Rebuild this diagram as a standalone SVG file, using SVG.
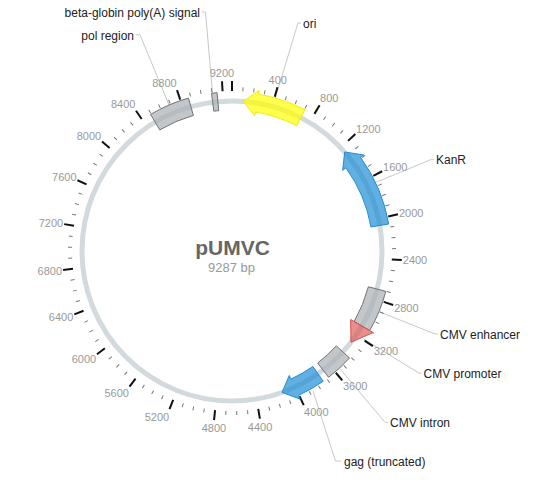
<svg xmlns="http://www.w3.org/2000/svg" xmlns:xlink="http://www.w3.org/1999/xlink" width="549" height="489" viewBox="0 0 549 489">
<style>
.bb{fill:none;stroke:#d3dadd;stroke-width:5}
.mj{stroke:#111;stroke-width:2}
.mn{stroke:#777;stroke-width:1}
.tl{font-family:"Liberation Sans",Arial,sans-serif;font-size:11px;fill:#999}
.lbl{font-family:"Liberation Sans",Arial,sans-serif;font-size:12px;fill:#222}
.ln{fill:none;stroke:#c8c8c8;stroke-width:1}
.gray{fill:#a9afb4;fill-opacity:.7;stroke:#6e7377;stroke-width:1}
.blue{fill:#1f8dd6;fill-opacity:.7;stroke:#1f8dd6;stroke-width:1}
.yel{fill:#ffff00;fill-opacity:.7;stroke:#eeee10;stroke-width:1}
.red{fill:#d9534f;fill-opacity:.65;stroke:#d9534f;stroke-width:1}
.title{font-family:"Liberation Sans",Arial,sans-serif;font-size:21px;font-weight:bold;fill:#666}
.sub{font-family:"Liberation Sans",Arial,sans-serif;font-size:13px;fill:#999}
</style>
<defs>
<line id="tM" class="mj" x1="232" y1="91" x2="232" y2="81"/>
<line id="tm" class="mn" x1="232" y1="91" x2="232" y2="87"/>
</defs>
<rect width="549" height="489" fill="#fff"/>
<circle id="backbone" class="bb" cx="232" cy="251" r="150"/>

<g id="connectors">
<polyline class="ln" points="275.3,98 298,23 301,23"/>
<polyline class="ln" points="375.5,182.5 431.7,159.3 434,159.3"/>
<polyline class="ln" points="379,311.6 435,334 438,334"/>
<polyline class="ln" points="364.2,339.3 419.3,373.3 421.5,373.3"/>
<polyline class="ln" points="339.5,368.2 385,422.3 388,422.3"/>
<polyline class="ln" points="313,391 335.5,461 341,461"/>
<polyline class="ln" points="169,105 140,34.8 136,34.8"/>
<polyline class="ln" points="212.5,93.3 205.5,12 202,12"/>
</g>

<g id="ticks">
<use xlink:href="#tM" transform="rotate(0 232 251)"/>
<use xlink:href="#tM" transform="rotate(15.506 232 251)"/>
<use xlink:href="#tM" transform="rotate(31.011 232 251)"/>
<use xlink:href="#tM" transform="rotate(46.517 232 251)"/>
<use xlink:href="#tM" transform="rotate(62.022 232 251)"/>
<use xlink:href="#tM" transform="rotate(77.528 232 251)"/>
<use xlink:href="#tM" transform="rotate(93.033 232 251)"/>
<use xlink:href="#tM" transform="rotate(108.539 232 251)"/>
<use xlink:href="#tM" transform="rotate(124.044 232 251)"/>
<use xlink:href="#tM" transform="rotate(139.550 232 251)"/>
<use xlink:href="#tM" transform="rotate(155.055 232 251)"/>
<use xlink:href="#tM" transform="rotate(170.561 232 251)"/>
<use xlink:href="#tM" transform="rotate(186.066 232 251)"/>
<use xlink:href="#tM" transform="rotate(201.572 232 251)"/>
<use xlink:href="#tM" transform="rotate(217.077 232 251)"/>
<use xlink:href="#tM" transform="rotate(232.583 232 251)"/>
<use xlink:href="#tM" transform="rotate(248.088 232 251)"/>
<use xlink:href="#tM" transform="rotate(263.594 232 251)"/>
<use xlink:href="#tM" transform="rotate(279.099 232 251)"/>
<use xlink:href="#tM" transform="rotate(294.605 232 251)"/>
<use xlink:href="#tM" transform="rotate(310.110 232 251)"/>
<use xlink:href="#tM" transform="rotate(325.616 232 251)"/>
<use xlink:href="#tM" transform="rotate(341.121 232 251)"/>
<use xlink:href="#tM" transform="rotate(356.627 232 251)"/>
<use xlink:href="#tm" transform="rotate(3.876 232 251)"/>
<use xlink:href="#tm" transform="rotate(7.753 232 251)"/>
<use xlink:href="#tm" transform="rotate(11.629 232 251)"/>
<use xlink:href="#tm" transform="rotate(19.382 232 251)"/>
<use xlink:href="#tm" transform="rotate(23.258 232 251)"/>
<use xlink:href="#tm" transform="rotate(27.135 232 251)"/>
<use xlink:href="#tm" transform="rotate(34.888 232 251)"/>
<use xlink:href="#tm" transform="rotate(38.764 232 251)"/>
<use xlink:href="#tm" transform="rotate(42.640 232 251)"/>
<use xlink:href="#tm" transform="rotate(50.393 232 251)"/>
<use xlink:href="#tm" transform="rotate(54.269 232 251)"/>
<use xlink:href="#tm" transform="rotate(58.146 232 251)"/>
<use xlink:href="#tm" transform="rotate(65.899 232 251)"/>
<use xlink:href="#tm" transform="rotate(69.775 232 251)"/>
<use xlink:href="#tm" transform="rotate(73.651 232 251)"/>
<use xlink:href="#tm" transform="rotate(81.404 232 251)"/>
<use xlink:href="#tm" transform="rotate(85.280 232 251)"/>
<use xlink:href="#tm" transform="rotate(89.157 232 251)"/>
<use xlink:href="#tm" transform="rotate(96.910 232 251)"/>
<use xlink:href="#tm" transform="rotate(100.786 232 251)"/>
<use xlink:href="#tm" transform="rotate(104.662 232 251)"/>
<use xlink:href="#tm" transform="rotate(112.415 232 251)"/>
<use xlink:href="#tm" transform="rotate(116.292 232 251)"/>
<use xlink:href="#tm" transform="rotate(120.168 232 251)"/>
<use xlink:href="#tm" transform="rotate(127.921 232 251)"/>
<use xlink:href="#tm" transform="rotate(131.797 232 251)"/>
<use xlink:href="#tm" transform="rotate(135.673 232 251)"/>
<use xlink:href="#tm" transform="rotate(143.426 232 251)"/>
<use xlink:href="#tm" transform="rotate(147.303 232 251)"/>
<use xlink:href="#tm" transform="rotate(151.179 232 251)"/>
<use xlink:href="#tm" transform="rotate(158.932 232 251)"/>
<use xlink:href="#tm" transform="rotate(162.808 232 251)"/>
<use xlink:href="#tm" transform="rotate(166.684 232 251)"/>
<use xlink:href="#tm" transform="rotate(174.437 232 251)"/>
<use xlink:href="#tm" transform="rotate(178.314 232 251)"/>
<use xlink:href="#tm" transform="rotate(182.190 232 251)"/>
<use xlink:href="#tm" transform="rotate(189.943 232 251)"/>
<use xlink:href="#tm" transform="rotate(193.819 232 251)"/>
<use xlink:href="#tm" transform="rotate(197.695 232 251)"/>
<use xlink:href="#tm" transform="rotate(205.448 232 251)"/>
<use xlink:href="#tm" transform="rotate(209.325 232 251)"/>
<use xlink:href="#tm" transform="rotate(213.201 232 251)"/>
<use xlink:href="#tm" transform="rotate(220.954 232 251)"/>
<use xlink:href="#tm" transform="rotate(224.830 232 251)"/>
<use xlink:href="#tm" transform="rotate(228.706 232 251)"/>
<use xlink:href="#tm" transform="rotate(236.459 232 251)"/>
<use xlink:href="#tm" transform="rotate(240.336 232 251)"/>
<use xlink:href="#tm" transform="rotate(244.212 232 251)"/>
<use xlink:href="#tm" transform="rotate(251.965 232 251)"/>
<use xlink:href="#tm" transform="rotate(255.841 232 251)"/>
<use xlink:href="#tm" transform="rotate(259.717 232 251)"/>
<use xlink:href="#tm" transform="rotate(267.470 232 251)"/>
<use xlink:href="#tm" transform="rotate(271.346 232 251)"/>
<use xlink:href="#tm" transform="rotate(275.223 232 251)"/>
<use xlink:href="#tm" transform="rotate(282.976 232 251)"/>
<use xlink:href="#tm" transform="rotate(286.852 232 251)"/>
<use xlink:href="#tm" transform="rotate(290.728 232 251)"/>
<use xlink:href="#tm" transform="rotate(298.481 232 251)"/>
<use xlink:href="#tm" transform="rotate(302.357 232 251)"/>
<use xlink:href="#tm" transform="rotate(306.234 232 251)"/>
<use xlink:href="#tm" transform="rotate(313.987 232 251)"/>
<use xlink:href="#tm" transform="rotate(317.863 232 251)"/>
<use xlink:href="#tm" transform="rotate(321.739 232 251)"/>
<use xlink:href="#tm" transform="rotate(329.492 232 251)"/>
<use xlink:href="#tm" transform="rotate(333.368 232 251)"/>
<use xlink:href="#tm" transform="rotate(337.245 232 251)"/>
<use xlink:href="#tm" transform="rotate(344.998 232 251)"/>
<use xlink:href="#tm" transform="rotate(348.874 232 251)"/>
<use xlink:href="#tm" transform="rotate(352.750 232 251)"/>
</g>

<g id="tick-labels" class="tl">
<text text-anchor="middle" transform="rotate(15.506 232 251) translate(232 80) rotate(-15.506)" y="-2.7">400</text>
<text text-anchor="start" transform="rotate(31.011 232 251) translate(232 80) rotate(-31.011)" y="-2">800</text>
<text text-anchor="start" transform="rotate(46.517 232 251) translate(232 80) rotate(-46.517)" y="-0.8">1200</text>
<text text-anchor="start" transform="rotate(62.022 232 251) translate(232 80) rotate(-62.022)" y="0.7">1600</text>
<text text-anchor="start" transform="rotate(77.528 232 251) translate(232 80) rotate(-77.528)" y="2.5">2000</text>
<text text-anchor="start" transform="rotate(93.033 232 251) translate(232 80) rotate(-93.033)" y="4.4">2400</text>
<text text-anchor="start" transform="rotate(108.539 232 251) translate(232 80) rotate(-108.539)" y="6.2">2800</text>
<text text-anchor="start" transform="rotate(124.044 232 251) translate(232 80) rotate(-124.044)" y="7.9">3200</text>
<text text-anchor="start" transform="rotate(139.550 232 251) translate(232 80) rotate(-139.550)" y="9.3">3600</text>
<text text-anchor="start" transform="rotate(155.055 232 251) translate(232 80) rotate(-155.055)" y="10.3">4000</text>
<text text-anchor="middle" transform="rotate(170.561 232 251) translate(232 80) rotate(-170.561)" y="10.9">4400</text>
<text text-anchor="middle" transform="rotate(186.066 232 251) translate(232 80) rotate(-186.066)" y="11">4800</text>
<text text-anchor="end" transform="rotate(201.572 232 251) translate(232 80) rotate(-201.572)" y="10.5">5200</text>
<text text-anchor="end" transform="rotate(217.077 232 251) translate(232 80) rotate(-217.077)" y="9.6">5600</text>
<text text-anchor="end" transform="rotate(232.583 232 251) translate(232 80) rotate(-232.583)" y="8.3">6000</text>
<text text-anchor="end" transform="rotate(248.088 232 251) translate(232 80) rotate(-248.088)" y="6.6">6400</text>
<text text-anchor="end" transform="rotate(263.594 232 251) translate(232 80) rotate(-263.594)" y="4.8">6800</text>
<text text-anchor="end" transform="rotate(279.099 232 251) translate(232 80) rotate(-279.099)" y="2.9">7200</text>
<text text-anchor="end" transform="rotate(294.605 232 251) translate(232 80) rotate(-294.605)" y="1.1">7600</text>
<text text-anchor="end" transform="rotate(310.110 232 251) translate(232 80) rotate(-310.110)" y="-0.5">8000</text>
<text text-anchor="end" transform="rotate(325.616 232 251) translate(232 80) rotate(-325.616)" y="-1.8">8400</text>
<text text-anchor="end" transform="rotate(341.121 232 251) translate(232 80) rotate(-341.121)" y="-2.6">8800</text>
<text text-anchor="middle" transform="rotate(356.627 232 251) translate(232 80) rotate(-356.627)" y="-3">9200</text>
</g>

<g id="ori">
<path class="yel" d="M243.25,101.42 L259.18,90.28 L258.52,94.23 A159,159 0 0 1 304.93,109.71 L296.67,125.70 A141,141 0 0 0 255.51,111.97 L254.85,115.92 Z"/>
<text class="lbl" x="303" y="27.5">ori</text>
</g>
<g id="KanR">
<path class="blue" d="M344.69,152.00 L363.70,154.96 L360.47,157.32 A159,159 0 0 1 388.68,223.94 L370.94,227.00 A141,141 0 0 0 345.93,167.92 L342.69,170.28 Z"/>
<text class="lbl" x="436" y="164">KanR</text>
</g>
<g id="CMV-enhancer">
<path class="gray" d="M385.80,291.35 A159,159 0 0 1 369.70,330.50 L354.11,321.50 A141,141 0 0 0 368.39,286.78 Z"/>
<text class="lbl" x="440" y="338.5">CMV enhancer</text>
</g>
<g id="CMV-promoter">
<path class="red" d="M350.65,319.5 L373.16,332.5 L351.0,342.31 Z"/>
<text class="lbl" x="423.5" y="378">CMV promoter</text>
</g>
<g id="CMV-intron">
<path class="gray" d="M349.60,358.01 A159,159 0 0 1 328.57,377.31 L317.64,363.01 A141,141 0 0 0 336.29,345.89 Z"/>
<text class="lbl" x="390" y="427">CMV intron</text>
</g>
<g id="gag">
<path class="blue" d="M312.87,366.50 L323.20,381.24 A159,159 0 0 1 298.44,395.45 L300.11,399.09 L282.07,392.40 L289.25,375.47 L290.92,379.10 A141,141 0 0 0 312.87,366.50 Z"/>
<text class="lbl" x="344" y="465.5">gag (truncated)</text>
</g>
<g id="pol-region">
<path class="gray" d="M150.57,114.43 A159,159 0 0 1 188.44,98.08 L193.37,115.39 A141,141 0 0 0 159.79,129.89 Z"/>
<text class="lbl" x="134" y="39.5" text-anchor="end">pol region</text>
</g>
<g id="beta-globin-polyA">
<path class="gray" d="M211.52,93.32 A159,159 0 0 1 217.04,92.71 L218.73,110.63 A141,141 0 0 0 213.84,111.17 Z"/>
<text class="lbl" x="200" y="16.5" text-anchor="end">beta-globin poly(A) signal</text>
</g>

<g id="title">
<text class="title" x="232.5" y="255" text-anchor="middle">pUMVC</text>
<text class="sub" x="231.5" y="272" text-anchor="middle">9287 bp</text>
</g>
</svg>
